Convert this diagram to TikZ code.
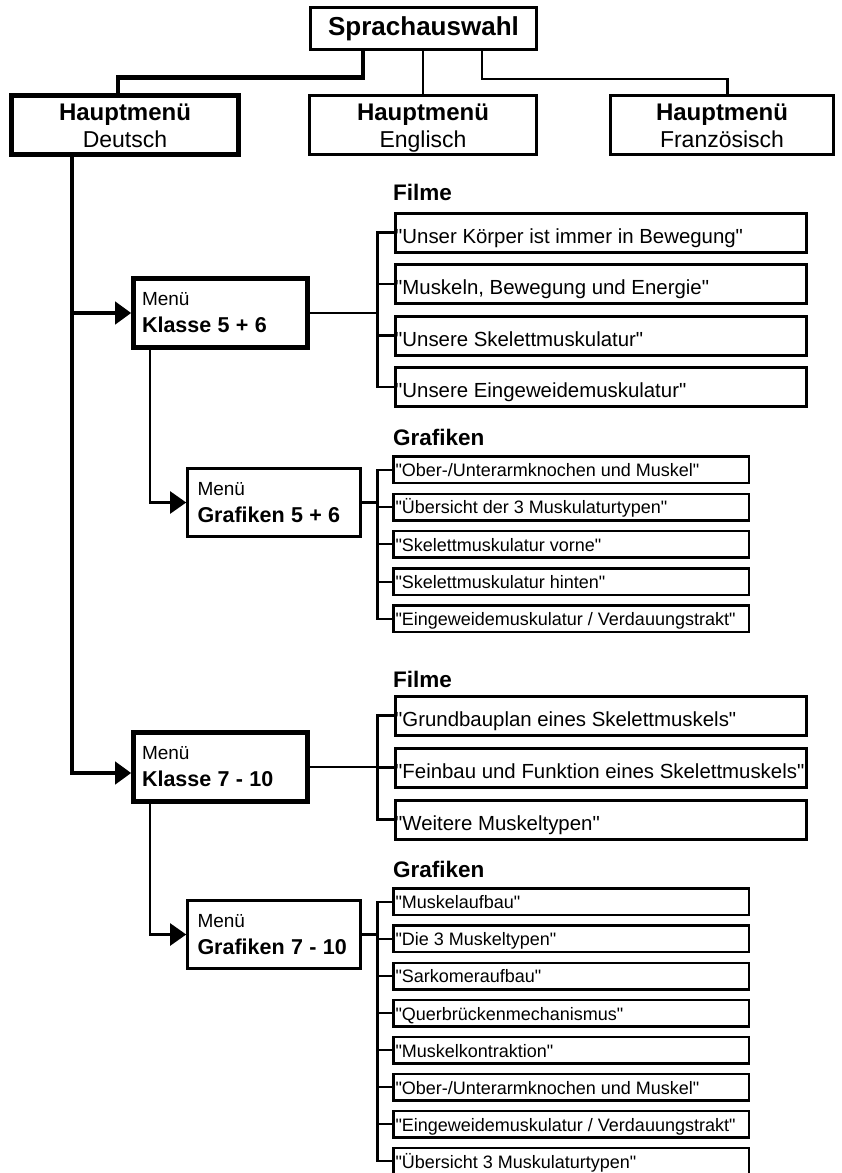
\documentclass[tikz,border=0pt]{standalone}
\usepackage{fontspec}
\setmainfont{Liberation Sans}[Ligatures=TeXOff]
\usetikzlibrary{arrows.meta}
\tikzset{
  thickline/.style={line width=4.6pt},
  thinline/.style={line width=2.2pt},
  arr/.style={-{Triangle[length=16pt,width=22pt]}},
  topbox/.style={draw,line width=2.8pt,minimum width=227pt,minimum height=59pt,align=center,inner sep=0pt,
    font=\fontsize{23}{27}\selectfont},
  menubox/.style={draw,line width=4.6pt,minimum height=69pt,text width=157pt,inner xsep=8.5pt,inner ysep=0pt,align=left,
    font=\fontsize{19}{27}\selectfont},
  grbox/.style={draw,line width=2.6pt,minimum height=68.5pt,text width=153pt,inner xsep=10pt,inner ysep=0pt,align=left,
    font=\fontsize{19}{27}\selectfont},
  filmbox/.style={draw,line width=3pt,anchor=north west,minimum width=411pt,minimum height=39pt,inner sep=0pt},
  grafbox/.style={draw,line width=2.6pt,anchor=north west,minimum width=355.4pt,minimum height=26.4pt,inner sep=0pt},
  filmtxt/.style={anchor=base west,inner sep=0pt,font=\fontsize{20.4}{24}\selectfont},
  graftxt/.style={anchor=base west,inner sep=0pt,font=\fontsize{18}{22}\selectfont},
  heading/.style={anchor=base west,inner sep=0pt,font=\bfseries\fontsize{22.5}{26}\selectfont},
}
\newcommand\mkfilm[3]{%
  \node[filmbox] (#1) at (393.5,#2) {};
  \node[filmtxt] (#1t) at ([shift={(1.5,10.5)}]#1.west) {#3};}
\newcommand\mkgraf[3]{%
  \node[grafbox] (#1) at (392.3,#2) {};
  \node[graftxt] (#1t) at ([shift={(3,6.8)}]#1.west) {#3};}
\newcommand\hm[1]{{\bfseries\fontsize{24}{27}\selectfont\rule{0pt}{22pt}Hauptmenü}\\#1\rule[-5pt]{0pt}{5pt}}
\begin{document}
\begin{tikzpicture}[x=1pt,y=-1pt]
\clip (0,0) rectangle (841,1173);
\fill[white] (0,0) rectangle (841,1173);

% top level
\node[topbox,minimum width=226pt,minimum height=42pt,font=\bfseries\fontsize{26}{30}\selectfont] (spr) at (423.5,28.5) {Sprachauswahl};
\node[topbox,line width=4.8pt] (hd) at (125,125) {\hm{Deutsch}};
\node[topbox] (he) at (423,125) {\hm{Englisch}};
\node[topbox,minimum width=223pt] (hf) at (722,125) {\hm{Französisch}};

\coordinate (c1) at (363,77.5);
\coordinate (c2) at (118,77.5);
\coordinate (c3) at (482,79);
\coordinate (c4) at (727.5,79);
\draw[thickline] (c1 |- spr.south) -- (c1) -- (c2) -- (c2 |- hd.north);
\draw[thinline] (spr.south -| he.north) -- (he.north);
\draw[thinline] (c3 |- spr.south) -- (c3) -- (c4) -- (c4 |- hf.north);

% menus
\node[menubox] (k56) at (220.5,313) {Menü\\{\bfseries\fontsize{21.5}{27}\selectfont Klasse 5 + 6}};
\node[menubox] (k78) at (220.5,767) {Menü\\{\bfseries\fontsize{21.5}{27}\selectfont Klasse 7 - 10}};
\node[grbox] (g56) at (274,502.5) {Menü\\{\bfseries\fontsize{21.5}{27}\selectfont Grafiken 5 + 6}};
\node[grbox] (g78) at (274,934.5) {Menü\\{\bfseries\fontsize{21.5}{27}\selectfont Grafiken 7 - 10}};

\coordinate (mainx) at (72,0);
\coordinate (subx) at (150,0);
\coordinate (brx) at (377.5,0);
\coordinate (k78a) at ([shift={(0,6)}]k78.west);

\draw[thickline,arr] (mainx |- hd.south) -- (mainx |- k78a) -- (k78a);
\draw[thickline,arr] (mainx |- k56.west) -- (k56.west);
\draw[thinline,arr] (subx |- k56.south) -- (subx |- g56.west) -- (g56.west);
\draw[thinline,arr] (subx |- k78.south) -- (subx |- g78.west) -- (g78.west);

% headings
\node[heading] (h1) at (393,200) {Filme};
\node[heading] (h2) at (393,445) {Grafiken};
\node[heading] (h3) at (393,687) {Filme};
\node[heading] (h4) at (393,877) {Grafiken};

% Filme Klasse 5+6
\mkfilm{fa1}{211.5}{"Unser Körper ist immer in Bewegung"}
\mkfilm{fa2}{263}{"Muskeln, Bewegung und Energie"}
\mkfilm{fa3}{314.5}{"Unsere Skelettmuskulatur"}
\mkfilm{fa4}{366}{"Unsere Eingeweidemuskulatur"}
\draw[thinline] (fa1.west) -- (brx |- fa1.west) -- (brx |- fa4.west) -- (fa4.west);
\draw[thinline] (brx |- fa2.west) -- (fa2.west);
\draw[thinline] (brx |- fa3.west) -- (fa3.west);
\draw[thinline] (k56.east) -- (brx |- k56.east);

% Grafiken 5+6
\mkgraf{ga1}{455.3}{"Ober-/Unterarmknochen und Muskel"}
\mkgraf{ga2}{492.6}{"Übersicht der 3 Muskulaturtypen"}
\mkgraf{ga3}{529.8}{"Skelettmuskulatur vorne"}
\mkgraf{ga4}{567.1}{"Skelettmuskulatur hinten"}
\mkgraf{ga5}{604.3}{"Eingeweidemuskulatur / Verdauungstrakt"}
\draw[thinline] (ga1.west) -- (brx |- ga1.west) -- (brx |- ga5.west) -- (ga5.west);
\draw[thinline] (brx |- ga2.west) -- (ga2.west);
\draw[thinline] (brx |- ga3.west) -- (ga3.west);
\draw[thinline] (brx |- ga4.west) -- (ga4.west);
\draw[thinline] (g56.east) -- (brx |- g56.east);

% Filme Klasse 7-10
\mkfilm{fb1}{694.5}{"Grundbauplan eines Skelettmuskels"}
\mkfilm{fb2}{746.5}{"Feinbau und Funktion eines Skelettmuskels"}
\mkfilm{fb3}{798.5}{"Weitere Muskeltypen"}
\draw[thinline] (fb1.west) -- (brx |- fb1.west) -- (brx |- fb3.west) -- (fb3.west);
\draw[thinline] (brx |- fb2.west) -- (fb2.west);
\draw[thinline] (k78.east) -- (brx |- k78.east);

% Grafiken 7-10
\mkgraf{gb1}{887.3}{"Muskelaufbau"}
\mkgraf{gb2}{924.3}{"Die 3 Muskeltypen"}
\mkgraf{gb3}{961.6}{"Sarkomeraufbau"}
\mkgraf{gb4}{998.8}{"Querbrückenmechanismus"}
\mkgraf{gb5}{1035.8}{"Muskelkontraktion"}
\mkgraf{gb6}{1072.8}{"Ober-/Unterarmknochen und Muskel"}
\mkgraf{gb7}{1109.8}{"Eingeweidemuskulatur / Verdauungstrakt"}
\mkgraf{gb8}{1146.8}{"Übersicht 3 Muskulaturtypen"}
\draw[thinline] (gb1.west) -- (brx |- gb1.west) -- (brx |- gb8.west) -- (gb8.west);
\draw[thinline] (brx |- gb2.west) -- (gb2.west);
\draw[thinline] (brx |- gb3.west) -- (gb3.west);
\draw[thinline] (brx |- gb4.west) -- (gb4.west);
\draw[thinline] (brx |- gb5.west) -- (gb5.west);
\draw[thinline] (brx |- gb6.west) -- (gb6.west);
\draw[thinline] (brx |- gb7.west) -- (gb7.west);
\draw[thinline] (g78.east) -- (brx |- g78.east);
\end{tikzpicture}
\end{document}
